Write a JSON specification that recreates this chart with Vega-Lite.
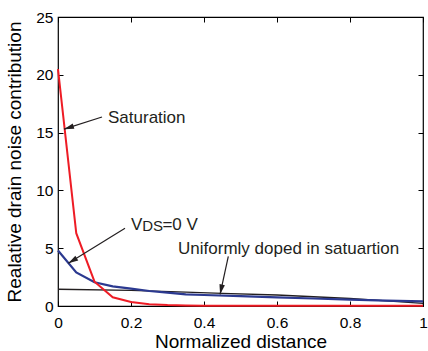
{
  "$schema": "https://vega.github.io/schema/vega-lite/v6.json",
  "width": 365,
  "height": 289,
  "autosize": {"type": "none"},
  "padding": {"left": 58, "top": 17, "right": 5, "bottom": 45},
  "background": "white",
  "config": {
    "font": "Liberation Sans",
    "view": {"stroke": "black", "strokeWidth": 1.2},
    "axis": {
      "domain": false,
      "grid": false,
      "tickColor": "black",
      "tickSize": -5,
      "tickWidth": 1,
      "labelFont": "Liberation Sans",
      "labelFontSize": 15.5,
      "labelColor": "black",
      "labelFlush": false,
      "titleFont": "Liberation Sans",
      "titleFontSize": 19,
      "titleFontWeight": "normal",
      "titleColor": "black"
    }
  },
  "datasets": {
    "curves": [
      {"series": "uniform", "x": 0, "y": 1.45},
      {"series": "uniform", "x": 0.2, "y": 1.35},
      {"series": "uniform", "x": 0.35, "y": 1.2},
      {"series": "uniform", "x": 0.45, "y": 1.1},
      {"series": "uniform", "x": 0.6, "y": 0.95},
      {"series": "uniform", "x": 0.7, "y": 0.8},
      {"series": "uniform", "x": 0.8, "y": 0.65},
      {"series": "uniform", "x": 0.9, "y": 0.45},
      {"series": "uniform", "x": 1.0, "y": 0.22},
      {"series": "vds0", "x": 0, "y": 4.8},
      {"series": "vds0", "x": 0.05, "y": 2.9},
      {"series": "vds0", "x": 0.1, "y": 2.05},
      {"series": "vds0", "x": 0.15, "y": 1.7},
      {"series": "vds0", "x": 0.2, "y": 1.5},
      {"series": "vds0", "x": 0.25, "y": 1.3},
      {"series": "vds0", "x": 0.3, "y": 1.15},
      {"series": "vds0", "x": 0.35, "y": 1.0},
      {"series": "vds0", "x": 0.4, "y": 0.95},
      {"series": "vds0", "x": 0.5, "y": 0.85},
      {"series": "vds0", "x": 0.6, "y": 0.75},
      {"series": "vds0", "x": 0.7, "y": 0.65},
      {"series": "vds0", "x": 0.8, "y": 0.55},
      {"series": "vds0", "x": 0.9, "y": 0.47},
      {"series": "vds0", "x": 1.0, "y": 0.4},
      {"series": "sat", "x": 0, "y": 20.5},
      {"series": "sat", "x": 0.05, "y": 6.3},
      {"series": "sat", "x": 0.1, "y": 2.1},
      {"series": "sat", "x": 0.15, "y": 0.75},
      {"series": "sat", "x": 0.2, "y": 0.35},
      {"series": "sat", "x": 0.25, "y": 0.15},
      {"series": "sat", "x": 0.3, "y": 0.08},
      {"series": "sat", "x": 0.35, "y": 0.05},
      {"series": "sat", "x": 0.4, "y": 0.03},
      {"series": "sat", "x": 0.5, "y": 0.02},
      {"series": "sat", "x": 0.6, "y": 0.02},
      {"series": "sat", "x": 0.7, "y": 0.02},
      {"series": "sat", "x": 0.8, "y": 0.02},
      {"series": "sat", "x": 0.9, "y": 0.02},
      {"series": "sat", "x": 1.0, "y": 0.02}
    ],
    "arrows": [
      {"x": 0.1205, "y": 16.35, "x2": 0.0164, "y2": 15.3, "ang": 252.5},
      {"x": 0.1836, "y": 6.72, "x2": 0.0282, "y2": 3.69, "ang": 238.3},
      {"x": 0.4666, "y": 4.3, "x2": 0.444, "y2": 1.0, "ang": 192.2}
    ],
    "labels": [
      {"t": "Saturation", "x": 0.137, "y": 16.3, "fs": 17},
      {"t": "Uniformly doped in satuartion", "x": 0.329, "y": 4.95, "fs": 17}
    ],
    "vds": [
      {"t": "V", "x": 0.2, "y": 6.55, "fs": 17},
      {"t": "DS", "x": 0.2305, "y": 6.47, "fs": 15},
      {"t": "=0 V", "x": 0.286, "y": 6.55, "fs": 17}
    ]
  },
  "layer": [
    {
      "data": {"name": "curves"},
      "transform": [{"filter": "datum.series === 'uniform'"}],
      "mark": {"type": "line", "color": "#231f20", "strokeWidth": 1.3},
      "encoding": {
        "x": {"field": "x", "type": "quantitative", "scale": {"domain": [0, 1], "nice": false, "zero": false},
          "axis": {"orient": "bottom", "values": [0, 0.2, 0.4, 0.6, 0.8, 1], "format": "~g", "title": "Normalized distance", "labelPadding": 14, "titlePadding": 2}},
        "y": {"field": "y", "type": "quantitative", "scale": {"domain": [0, 25], "nice": false},
          "axis": {"orient": "left", "values": [0, 5, 10, 15, 20, 25], "title": "Realative drain noise contribution", "labelPadding": 10, "titlePadding": 11}}
      }
    },
    {
      "data": {"name": "curves"},
      "transform": [{"filter": "datum.series === 'uniform'"}],
      "mark": {"type": "point", "opacity": 0},
      "encoding": {
        "x": {"field": "x", "type": "quantitative", "axis": {"orient": "top", "values": [0, 0.2, 0.4, 0.6, 0.8, 1], "labels": false, "title": null}},
        "y": {"field": "y", "type": "quantitative", "axis": {"orient": "right", "values": [0, 5, 10, 15, 20, 25], "labels": false, "title": null}}
      }
    },
    {
      "data": {"name": "curves"},
      "transform": [{"filter": "datum.series === 'vds0'"}],
      "mark": {"type": "line", "color": "#2b3990", "strokeWidth": 2.2},
      "encoding": {
        "x": {"field": "x", "type": "quantitative", "axis": null},
        "y": {"field": "y", "type": "quantitative", "axis": null}
      }
    },
    {
      "data": {"name": "curves"},
      "transform": [{"filter": "datum.series === 'sat'"}],
      "mark": {"type": "line", "color": "#ee1c25", "strokeWidth": 2},
      "encoding": {
        "x": {"field": "x", "type": "quantitative", "axis": null},
        "y": {"field": "y", "type": "quantitative", "axis": null}
      }
    },
    {
      "data": {"name": "arrows"},
      "mark": {"type": "rule", "color": "#231f20", "strokeWidth": 1.2},
      "encoding": {
        "x": {"field": "x", "type": "quantitative", "axis": null},
        "y": {"field": "y", "type": "quantitative", "axis": null},
        "x2": {"field": "x2"},
        "y2": {"field": "y2"}
      }
    },
    {
      "data": {"name": "arrows"},
      "mark": {"type": "point", "shape": "M0,0L-0.55,2L0.55,2Z", "filled": true, "color": "#231f20", "opacity": 1, "size": 100},
      "encoding": {
        "x": {"field": "x2", "type": "quantitative", "axis": null},
        "y": {"field": "y2", "type": "quantitative", "axis": null},
        "angle": {"field": "ang", "type": "quantitative", "scale": null}
      }
    },
    {
      "data": {"name": "labels"},
      "mark": {"type": "text", "align": "left", "baseline": "middle", "color": "#231f20", "font": "Liberation Sans"},
      "encoding": {
        "x": {"field": "x", "type": "quantitative", "axis": null},
        "y": {"field": "y", "type": "quantitative", "axis": null},
        "text": {"field": "t"},
        "size": {"field": "fs", "type": "quantitative", "scale": null}
      }
    },
    {
      "data": {"name": "vds"},
      "mark": {"type": "text", "align": "left", "baseline": "alphabetic", "color": "#231f20", "font": "Liberation Sans"},
      "encoding": {
        "x": {"field": "x", "type": "quantitative", "axis": null},
        "y": {"field": "y", "type": "quantitative", "axis": null},
        "text": {"field": "t"},
        "size": {"field": "fs", "type": "quantitative", "scale": null}
      }
    }
  ],
  "resolve": {"axis": {"x": "independent", "y": "independent"}}
}
